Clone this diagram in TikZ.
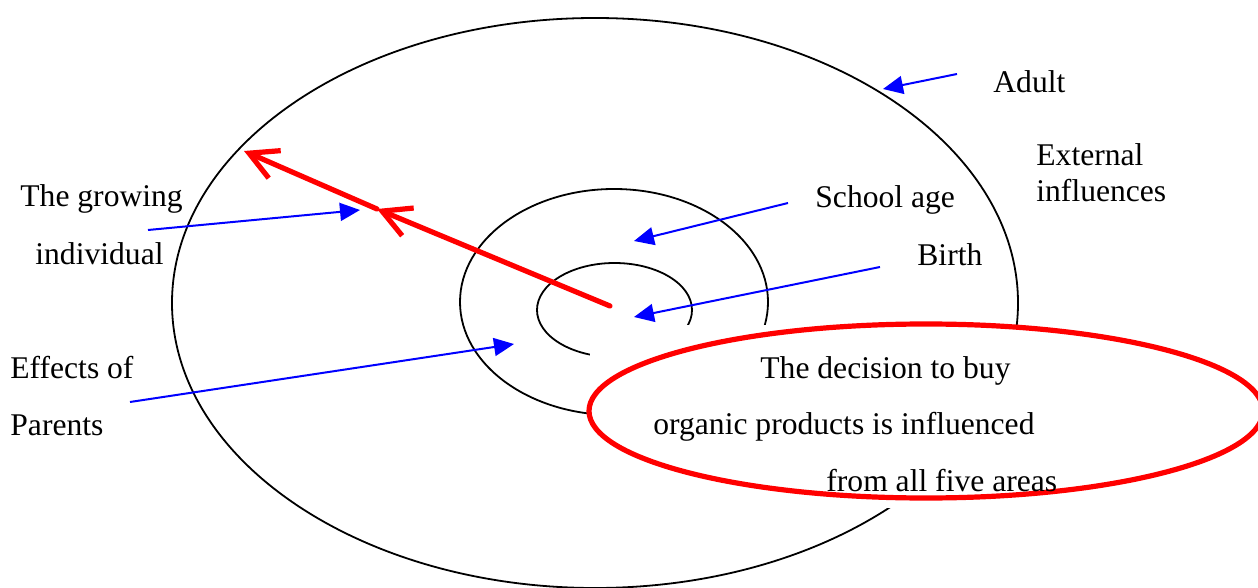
\documentclass[tikz,border=0pt]{standalone}
\usepackage{fontspec}
\setmainfont{Liberation Serif}
\usetikzlibrary{arrows.meta}
\begin{document}
\begin{tikzpicture}[x=0.5pt,y=-0.5pt,
    lab/.style={anchor=base west,inner sep=0pt,font=\fontsize{15.8}{19}\selectfont},
    ring/.style={draw=black,line width=0.9pt},
    bluearrow/.style={draw=blue,line width=1pt,-{Triangle[length=10pt,width=9pt]}},
    redarrow/.style={draw=red,line width=2.6pt,line cap=round,-{Straight Barb[length=14pt,width=15pt,line width=2.6pt]}}]
    \clip (0,0) rectangle (1258,588);
    \fill[white] (0,0) rectangle (1258,588);
    % rings
    \draw[ring] (595,303) ellipse [x radius=423,y radius=285];
    \draw[ring] (614,302) ellipse [x radius=154,y radius=113];
    \draw[ring] (614.5,310) ellipse [x radius=77.5,y radius=47];
    \fill[white] (590,325) rectangle (1258,508);
    \draw[red,line width=2.6pt] (926,411) ellipse [x radius=337,y radius=87];
    % labels
    \node[lab] (adult) at (993,93) {Adult};
    \node[lab] (ext1) at (1036,166) {External};
    \node[lab] (ext2) at (1036,202) {influences};
    \node[lab] (school) at (815,208) {School age};
    \node[lab] (birth) at (917,265) {Birth};
    \node[lab] (grow1) at (20,207) {The growing};
    \node[lab] (grow2) at (35,264) {individual};
    \node[lab] (eff1) at (10,379) {Effects of};
    \node[lab] (eff2) at (10,435) {Parents};
    \node[lab] (dec1) at (760,378) {The decision to buy};
    \node[lab] (dec2) at (653,434) {organic products is influenced};
    \node[lab] (dec3) at (826,491) {from all five areas};
    % arrow ends
    \coordinate (adultT) at (957,74);
    \coordinate (adultH) at (883,89);
    \coordinate (schoolT) at (788,203);
    \coordinate (schoolH) at (634,241);
    \coordinate (birthT) at (880,267);
    \coordinate (birthH) at (634,317);
    \coordinate (growT) at (148,230);
    \coordinate (growH) at (360,210);
    \coordinate (effT) at (130,402);
    \coordinate (effH) at (514,344);
    \coordinate (redT) at (610,306);
    \coordinate (redM) at (377,209);
    \coordinate (redH) at (244,151);
    \draw[bluearrow] (adultT) -- (adultH);
    \draw[bluearrow] (schoolT) -- (schoolH);
    \draw[bluearrow] (birthT) -- (birthH);
    \draw[bluearrow] (growT) -- (growH);
    \draw[bluearrow] (effT) -- (effH);
    \draw[redarrow] (redT) -- (redM);
    \draw[redarrow] (redM) -- (redH);
\end{tikzpicture}
\end{document}
